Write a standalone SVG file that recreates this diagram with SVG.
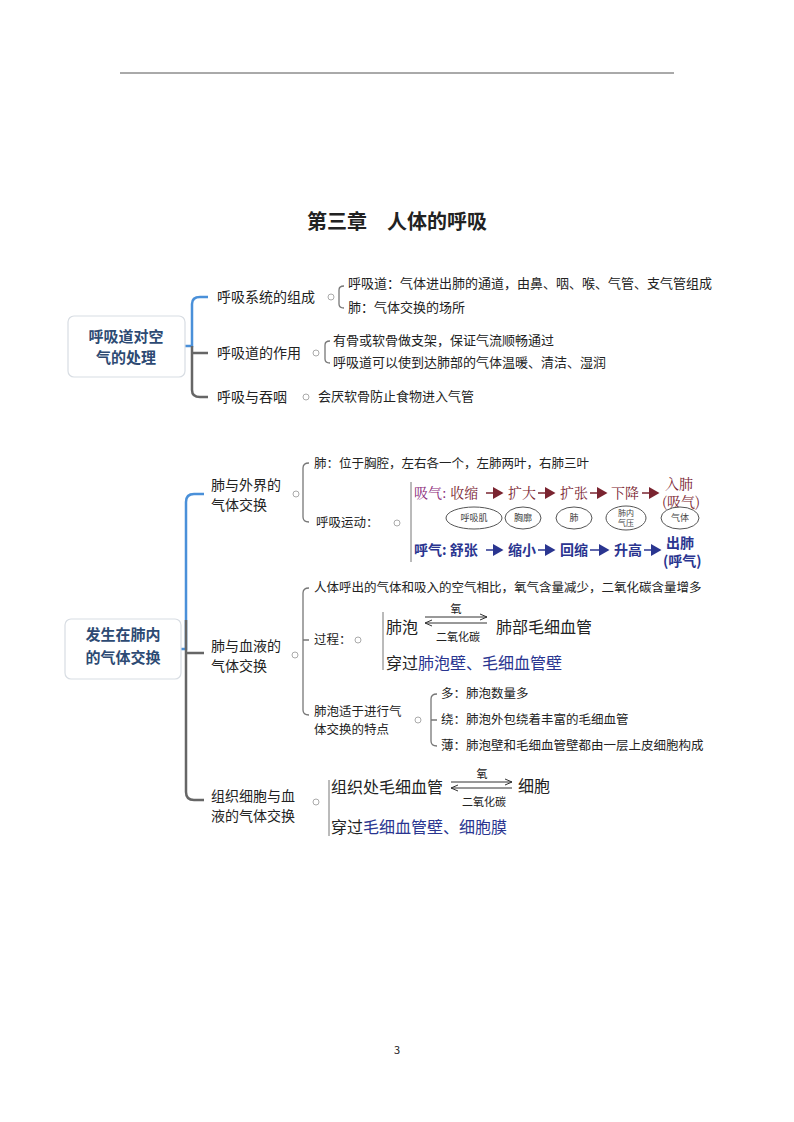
<svg xmlns="http://www.w3.org/2000/svg" width="794" height="1122" viewBox="0 0 794 1122">
<style>
text{font-family:"Noto Sans CJK SC","Liberation Sans",sans-serif;fill:#222}
.b{font-size:14px}.s{font-size:13px}.t{font-size:12.5px}
.r{font-family:"Noto Serif CJK SC","Noto Sans CJK SC",serif;font-size:14px;fill:#7a2430}
.u{font-family:"Noto Sans CJK SC",serif;font-size:14px;fill:#2a3590;font-weight:bold}
.k{font-size:16px}.bl{fill:#2a3590}
.box{fill:#fff;stroke:#d8dde3;stroke-width:1.2}
.nt{font-size:15px;font-weight:bold;fill:#2d4a73;text-anchor:middle}
.g{fill:none;stroke:#777;stroke-width:1.3}
.bb{fill:none;stroke:#4a90d9;stroke-width:2.5}
.gg{fill:none;stroke:#666;stroke-width:2.5}
.c{fill:#fff;stroke:#aaa;stroke-width:1}
.e{fill:#fff;stroke:#555;stroke-width:1}
.et{font-size:9px;fill:#444;text-anchor:middle}
.a{stroke:#333;stroke-width:1;fill:none}
</style>
<defs><marker id="ar" markerWidth="8" markerHeight="8" refX="7" refY="4" orient="auto"><path d="M0,1 L7,4 L0,7" fill="none" stroke="#333" stroke-width="1"/></marker>
<marker id="rr" markerWidth="8" markerHeight="8" refX="6" refY="4" orient="auto"><path d="M0,0 L7,4 L0,8 Z" fill="#7a2430"/></marker>
<marker id="ur" markerWidth="8" markerHeight="8" refX="6" refY="4" orient="auto"><path d="M0,0 L7,4 L0,8 Z" fill="#2a3590"/></marker></defs>
<line x1="120" y1="73" x2="674" y2="73" stroke="#555" stroke-width="1"/>
<text x="397" y="229" font-size="20" font-weight="bold" text-anchor="middle">第三章　人体的呼吸</text>
<g id="connectors">
<path class="bb" d="M185,346 L192,346 L192,304 Q192,297 200,297 L208,297"/>
<path class="gg" d="M192,346 L192,390 Q192,397 200,397 L208,397 M192,353 L208,353"/>
<path class="g" d="M344,286 Q339,286 339,290 L339,304 Q339,308 344,308"/>
<path class="g" d="M330,341 Q325,341 325,345 L325,359 Q325,363 330,363"/>
<circle class="c" cx="331" cy="297" r="3"/><circle class="c" cx="316" cy="353" r="3"/><circle class="c" cx="306" cy="397" r="3"/>
<path class="bb" d="M181,649 L186,649 L186,502 Q186,494 194,494 L204,494"/>
<path class="gg" d="M186,620 L186,792 Q186,800 194,800 L204,800 M186,653 L204,653"/>
<path class="g" d="M309,463 Q303,463 303,468 L303,517 Q303,522 309,522"/>
<path class="g" d="M309,588 Q303,588 303,593 L303,710 Q303,715 309,715 M303,640 L309,640"/>
<path class="g" d="M437,694 Q431,694 431,699 L431,741 Q431,746 437,746 M431,720 L437,720"/>
<circle class="c" cx="296" cy="494" r="3"/><circle class="c" cx="295" cy="655" r="3"/><circle class="c" cx="316" cy="802" r="3"/>
<circle class="c" cx="397" cy="523" r="3"/><circle class="c" cx="358" cy="640" r="3"/><circle class="c" cx="418" cy="720" r="3"/>
<line x1="411" y1="482" x2="411" y2="562" stroke="#777"/>
<line x1="383" y1="612" x2="383" y2="670" stroke="#777"/>
<line x1="329" y1="780" x2="329" y2="836" stroke="#777"/>
</g>
<g id="n1"><rect class="box" x="68" y="316" width="117" height="61" rx="6"/><text class="nt" x="126" y="342">呼吸道对空</text><text class="nt" x="126" y="363">气的处理</text></g>
<g id="n1a"><text class="b" x="217" y="302">呼吸系统的组成</text></g>
<g id="n1b"><text class="b" x="217" y="358">呼吸道的作用</text></g>
<g id="n1c"><text class="b" x="217" y="402">呼吸与吞咽</text></g>
<g id="n1d"><text class="s" x="348" y="288">呼吸道：气体进出肺的通道，由鼻、咽、喉、气管、支气管组成</text><text class="s" x="348" y="312">肺：气体交换的场所</text></g>
<g id="n1e"><text class="s" x="333" y="345">有骨或软骨做支架，保证气流顺畅通过</text><text class="s" x="333" y="367">呼吸道可以使到达肺部的气体温暖、清洁、湿润</text></g>
<g id="n1f"><text class="s" x="318" y="401">会厌软骨防止食物进入气管</text></g>
<g id="n2"><rect class="box" x="65" y="619" width="116" height="60" rx="6"/><text class="nt" x="123" y="640">发生在肺内</text><text class="nt" x="123" y="663">的气体交换</text></g>
<g id="n2a"><text class="b" x="211" y="490">肺与外界的</text><text class="b" x="211" y="510">气体交换</text></g>
<g id="n2b"><text class="t" x="314" y="468">肺：位于胸腔，左右各一个，左肺两叶，右肺三叶</text><text class="t" x="316" y="527">呼吸运动：</text></g>
<g id="n2c">
<text class="r" x="414" y="498"><tspan fill="#8a2a7a">吸气:</tspan> 收缩</text>
<text class="r" x="508" y="498">扩大</text><text class="r" x="560" y="498">扩张</text><text class="r" x="611" y="498">下降</text>
<line x1="486" y1="493" x2="502" y2="493" stroke="#7a2430" stroke-width="1.5" marker-end="url(#rr)"/>
<line x1="538" y1="493" x2="554" y2="493" stroke="#7a2430" stroke-width="1.5" marker-end="url(#rr)"/>
<line x1="590" y1="493" x2="606" y2="493" stroke="#7a2430" stroke-width="1.5" marker-end="url(#rr)"/>
<line x1="642" y1="493" x2="658" y2="493" stroke="#7a2430" stroke-width="1.5" marker-end="url(#rr)"/>
<text class="r" x="665" y="489">入肺</text><text class="r" x="662" y="507">(吸气)</text>
<ellipse class="e" cx="474" cy="518" rx="28" ry="11"/><text class="et" x="474" y="521">呼吸肌</text>
<ellipse class="e" cx="523" cy="518" rx="18" ry="11"/><text class="et" x="523" y="521">胸廓</text>
<ellipse class="e" cx="574" cy="518" rx="18" ry="11"/><text class="et" x="574" y="521">肺</text>
<ellipse class="e" cx="626" cy="518" rx="20" ry="12"/><text class="et" font-size="8" x="626" y="516" style="font-size:8px">肺内</text><text class="et" style="font-size:8px" x="626" y="526">气压</text>
<ellipse class="e" cx="680" cy="518" rx="19" ry="11"/><text class="et" x="680" y="521">气体</text>
<text class="u" x="414" y="555">呼气: 舒张</text>
<text class="u" x="508" y="555">缩小</text><text class="u" x="560" y="555">回缩</text><text class="u" x="614" y="555">升高</text>
<line x1="486" y1="550" x2="502" y2="550" stroke="#2a3590" stroke-width="1.5" marker-end="url(#ur)"/>
<line x1="538" y1="550" x2="554" y2="550" stroke="#2a3590" stroke-width="1.5" marker-end="url(#ur)"/>
<line x1="590" y1="550" x2="608" y2="550" stroke="#2a3590" stroke-width="1.5" marker-end="url(#ur)"/>
<line x1="644" y1="550" x2="660" y2="550" stroke="#2a3590" stroke-width="1.5" marker-end="url(#ur)"/>
<text class="u" x="666" y="548">出肺</text><text class="u" x="663" y="566">(呼气)</text>
</g>
<g id="n2d"><text class="b" x="211" y="651">肺与血液的</text><text class="b" x="211" y="671">气体交换</text></g>
<g id="n2e"><text class="t" x="314" y="592">人体呼出的气体和吸入的空气相比，氧气含量减少，二氧化碳含量增多</text>
<text class="t" x="314" y="644">过程：</text>
<text class="k" x="386" y="633">肺泡</text>
<line class="a" x1="425" y1="617" x2="487" y2="617" marker-end="url(#ar)"/>
<line class="a" x1="487" y1="623" x2="425" y2="623" marker-end="url(#ar)"/>
<text x="456" y="613" font-size="11" text-anchor="middle">氧</text>
<text x="458" y="641" font-size="11" text-anchor="middle">二氧化碳</text>
<text class="k" x="496" y="633">肺部毛细血管</text>
<text class="k" x="386" y="669">穿过<tspan class="bl">肺泡壁、毛细血管壁</tspan></text>
<text class="t" x="314" y="716">肺泡适于进行气</text><text class="t" x="314" y="734">体交换的特点</text>
<text class="t" x="441" y="698">多：肺泡数量多</text><text class="t" x="441" y="724">绕：肺泡外包绕着丰富的毛细血管</text><text class="t" x="441" y="750">薄：肺泡壁和毛细血管壁都由一层上皮细胞构成</text>
</g>
<g id="n2f"><text class="b" x="211" y="801">组织细胞与血</text><text class="b" x="211" y="821">液的气体交换</text>
<text class="k" x="331" y="793">组织处毛细血管</text>
<line class="a" x1="451" y1="782" x2="512" y2="782" marker-end="url(#ar)"/>
<line class="a" x1="512" y1="788" x2="451" y2="788" marker-end="url(#ar)"/>
<text x="482" y="778" font-size="11" text-anchor="middle">氧</text>
<text x="484" y="806" font-size="11" text-anchor="middle">二氧化碳</text>
<text class="k" x="518" y="792">细胞</text>
<text class="k" x="331" y="833">穿过<tspan class="bl">毛细血管壁、细胞膜</tspan></text>
</g>
<text x="397" y="1054" font-size="11" text-anchor="middle">3</text>
</svg>
